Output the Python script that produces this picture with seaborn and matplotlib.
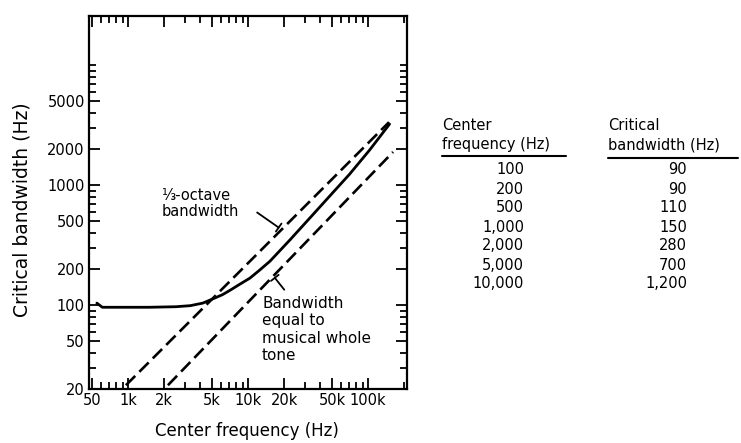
import numpy as np
import pandas as pd
import matplotlib
matplotlib.use("Agg")
import matplotlib.pyplot as plt
import seaborn as sns
from matplotlib.lines import Line2D
from matplotlib.ticker import FixedLocator, NullFormatter, LogLocator

# ---------------- data ----------------
# solid curve: critical bandwidth
cb_freq = [55, 61, 150, 250, 330, 420, 511, 610, 708, 850, 1037, 1250, 1520,
           2230, 3270, 4790, 7030, 10300, 15100]
cb_bw = [104, 96, 96, 97, 99, 104, 113, 122, 133, 149, 168, 196, 232,
         349, 532, 811, 1238, 1963, 3230]
# dashed: 1/3-octave bandwidth
third_freq = [96, 14950]
third_bw = [21.5, 3350]
# dashed: whole tone bandwidth
tone_freq = [215, 16150]
tone_bw = [21.5, 1890]

x_ticks = [50, 100, 200, 500, 1000, 2000, 5000, 10000]
x_tick_labels = ["50", "1k", "2k", "5k", "10k", "20k", "50k", "100k"]
y_ticks = [20, 50, 100, 200, 500, 1000, 2000, 5000]
y_tick_labels = ["20", "50", "100", "200", "500", "1000", "2000", "5000"]

table_freq = ["100", "200", "500", "1,000", "2,000", "5,000", "10,000"]
table_bw = ["90", "90", "110", "150", "280", "700", "1,200"]

# ---------------- figure ----------------
sns.set_style("ticks")
plt.rcParams["font.family"] = ["DejaVu Sans"]
for k in ["text.color", "axes.labelcolor", "xtick.color", "ytick.color",
          "xtick.labelcolor", "ytick.labelcolor", "axes.edgecolor"]:
    plt.rcParams[k] = "black"

W, H = 741, 443
fig = plt.figure(figsize=(W / 100, H / 100), dpi=100)
L, R, T, B = 89, 407, 16, 389
ax = fig.add_axes([L / W, 1 - B / H, (R - L) / W, (B - T) / H])

df_cb = pd.DataFrame({"f": cb_freq, "bw": cb_bw})
df_third = pd.DataFrame({"f": third_freq, "bw": third_bw})
df_tone = pd.DataFrame({"f": tone_freq, "bw": tone_bw})

sns.lineplot(data=df_cb, x="f", y="bw", ax=ax, color="black", lw=2.0,
             sort=False, estimator=None)
sns.lineplot(data=df_third, x="f", y="bw", ax=ax, color="black", lw=1.9,
             sort=False, estimator=None, linestyle=(0, (5, 2.2)))
sns.lineplot(data=df_tone, x="f", y="bw", ax=ax, color="black", lw=1.9,
             sort=False, estimator=None, linestyle=(0, (5, 2.2)))

ax.set_xscale("log")
ax.set_yscale("log")
ax.set_xlim(47.3, 21100)
ax.set_ylim(20, 25700)

ax.xaxis.set_major_locator(FixedLocator(x_ticks))
ax.set_xticklabels(x_tick_labels)
ax.yaxis.set_major_locator(FixedLocator(y_ticks))
ax.set_yticklabels(y_tick_labels)
ax.xaxis.set_minor_locator(LogLocator(base=10, subs=np.arange(2, 10), numticks=20))
ax.yaxis.set_minor_locator(FixedLocator(
    [v for v in LogLocator(base=10, subs=np.arange(1, 10), numticks=20).tick_values(20, 10000)
     if 20 <= v <= 10000]))
ax.xaxis.set_minor_formatter(NullFormatter())
ax.yaxis.set_minor_formatter(NullFormatter())

ax.tick_params(which="both", direction="in", top=True, right=True,
               color="black", width=1.3)
ax.tick_params(which="major", length=8, labelsize=10.5, pad=3)
ax.tick_params(which="minor", length=5)
for s in ax.spines.values():
    s.set_linewidth(1.6)
    s.set_color("black")

ax.set_xlabel("Center frequency (Hz)", fontsize=12)
ax.set_ylabel("Critical bandwidth (Hz)", fontsize=13.5)
ax.xaxis.set_label_coords(0.497, -0.088)
ax.yaxis.set_label_coords(-0.18, 0.48)

# annotations
ax.text(100 * 10 ** ((162 - 128) / 120), 20 * 10 ** ((389 - 188) / 120),
        "⅓-octave\nbandwidth", fontsize=10.5, va="top", ha="left", linespacing=1.1)
ax.annotate("", xy=(1880, 430), xytext=(1140, 610),
            arrowprops=dict(arrowstyle="-[,widthB=0.35,lengthB=0", color="black", lw=1.3))

ax.text(100 * 10 ** ((262 - 128) / 120), 20 * 10 ** ((389 - 296) / 120),
        "Bandwidth\nequal to\nmusical whole\ntone", fontsize=11, va="top", ha="left",
        linespacing=1.2)
ax.annotate("", xy=(1617, 176), xytext=(2070, 129),
            arrowprops=dict(arrowstyle="-[,widthB=0.35,lengthB=0", color="black", lw=1.3))

# ---------------- table ----------------
def fx(px):
    return px / W

def fy(py):
    return 1 - py / H

fig.text(fx(442), fy(125), "Center", fontsize=10.5, ha="left", va="center")
fig.text(fx(442), fy(145), "frequency (Hz)", fontsize=10.5, ha="left", va="center")
fig.text(fx(608), fy(125), "Critical", fontsize=10.5, ha="left", va="center")
fig.text(fx(608), fy(145), "bandwidth (Hz)", fontsize=10.5, ha="left", va="center")
fig.add_artist(Line2D([fx(442), fx(566)], [fy(156), fy(156)], color="black", lw=1.5))
fig.add_artist(Line2D([fx(608), fx(738)], [fy(158), fy(158)], color="black", lw=1.5))

row_y = [170, 189, 208, 227, 246, 265, 284]
for yy, a, b in zip(row_y, table_freq, table_bw):
    fig.text(fx(524), fy(yy), a, fontsize=10.5, ha="right", va="center")
    fig.text(fx(687), fy(yy), b, fontsize=10.5, ha="right", va="center")

fig.savefig("out.png", dpi=100)
